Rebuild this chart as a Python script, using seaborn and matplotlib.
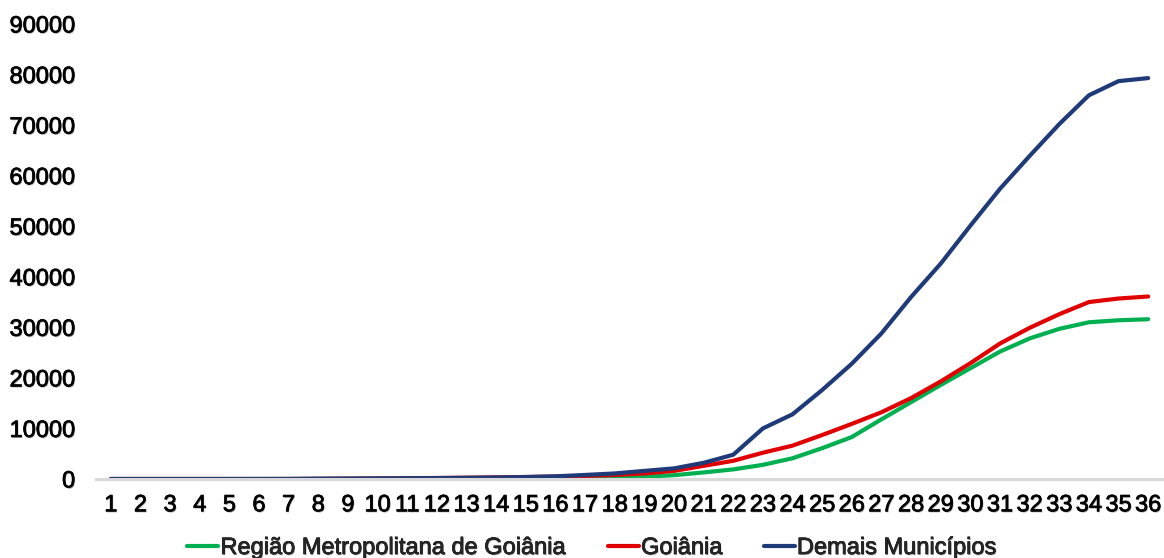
import numpy as np
import pandas as pd
import matplotlib
matplotlib.use("Agg")
import matplotlib.pyplot as plt
import matplotlib.patheffects as pe
import seaborn as sns
from matplotlib.lines import Line2D

dias = list(range(1, 37))
rmg = [0, 0, 0, 0, 0, 0, 0, 5, 10, 15, 20, 25, 30, 40, 60, 120, 200, 300,
       450, 750, 1300, 1900, 2800, 4100, 6100, 8300, 11800, 15200, 18600,
       21900, 25200, 27800, 29700, 31000, 31400, 31600]
goiania = [0, 0, 0, 0, 0, 0, 5, 40, 70, 100, 140, 200, 260, 330, 400, 480,
           600, 800, 1100, 1600, 2600, 3600, 5200, 6600, 8700, 10900, 13200,
           16000, 19300, 22900, 26800, 29900, 32600, 35000, 35700, 36100]
demais = [0, 0, 0, 0, 0, 5, 10, 60, 90, 120, 150, 180, 230, 300, 380, 530,
          800, 1100, 1600, 2100, 3200, 4800, 10000, 12800, 17600, 22800,
          28800, 36000, 42600, 50100, 57400, 63900, 70200, 75900, 78700, 79300]
series_names = ["Região Metropolitana de Goiânia", "Goiânia", "Demais Municípios"]
colors = ["#00B050", "#E00000", "#1F3A78"]
y_ticks = list(range(0, 90001, 10000))

df = pd.DataFrame({
    "dia": dias * 3,
    "casos": rmg + goiania + demais,
    "serie": [series_names[0]] * 36 + [series_names[1]] * 36 + [series_names[2]] * 36,
})

sns.set_theme(style="white")
plt.rcParams["font.family"] = ["Liberation Sans", "DejaVu Sans"]

fig = plt.figure(figsize=(11.64, 5.58), dpi=100)
ax = fig.add_axes([96 / 1164, (558 - 479) / 558, (1163 - 96) / 1164, (479 - 24) / 558])

sns.lineplot(data=df, x="dia", y="casos", hue="serie", hue_order=series_names,
             palette=colors, linewidth=3, ax=ax, legend=False)

ax.set_xlim(0.5, 36.5)
ax.set_ylim(0, 90000)
ax.set_xticks(dias)
ax.set_xticklabels([str(d) for d in dias])
ax.set_yticks(y_ticks)
ax.set_yticklabels([str(v) for v in y_ticks])
ax.set_xlabel("")
ax.set_ylabel("")
for s in ["top", "right", "left"]:
    ax.spines[s].set_visible(False)
ax.spines["bottom"].set_color("#D9D9D9")
ax.spines["bottom"].set_linewidth(2.2)
ax.tick_params(axis="both", length=0, labelsize=17, colors="black")
ax.tick_params(axis="x", pad=11)
ax.tick_params(axis="y", pad=15)
ax.grid(False)

text_fx = [pe.SimplePatchShadow(offset=(0.6, -0.8), shadow_rgbFace="#808080", alpha=0.6),
           pe.withStroke(linewidth=0.5, foreground="black")]
for lbl in ax.get_xticklabels() + ax.get_yticklabels():
    lbl.set_path_effects(text_fx)

handles = [Line2D([0], [0], color=c, lw=3) for c in colors]
leg = fig.legend(handles, series_names, loc="center", bbox_to_anchor=(592 / 1164, 10 / 558),
                 ncol=3, frameon=False, fontsize=17, handlelength=1.3,
                 handletextpad=0.1, columnspacing=1.75, borderaxespad=0)
for t in leg.get_texts():
    t.set_path_effects(text_fx)

fig.savefig("out.png", dpi=100)
